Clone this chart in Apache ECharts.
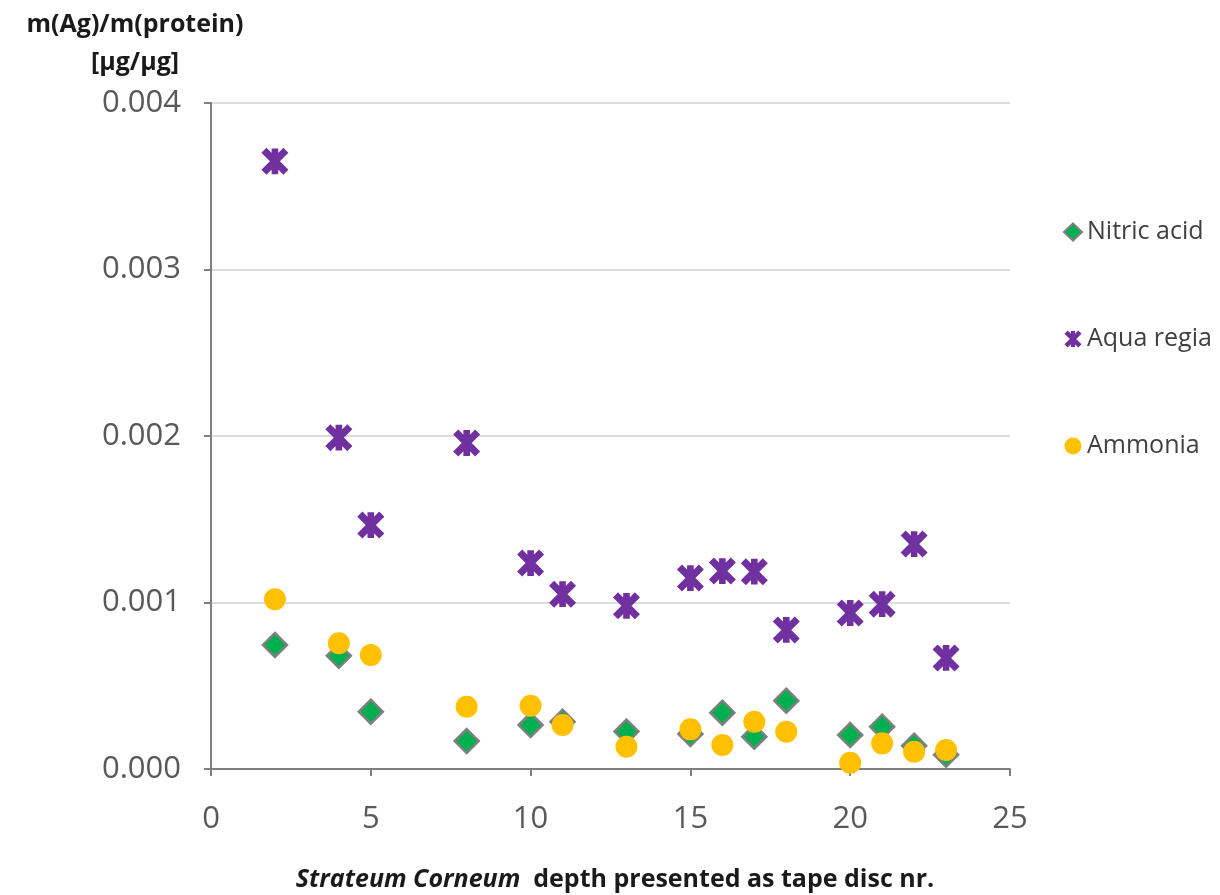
<!DOCTYPE html>
<html><head><meta charset="utf-8">
<script src="https://cdn.jsdelivr.net/npm/echarts@6/dist/echarts.min.js"></script>
<style>html,body{margin:0;padding:0;background:#fff}#c{width:1220px;height:895px}</style>
</head><body><div id="c"></div>
<script>
const discNr = [2, 4, 5, 8, 10, 11, 13, 15, 16, 17, 18, 20, 21, 22, 23];
const nitricAcid = [0.000745, 0.00068, 0.000344, 0.000168, 0.000264, 0.000284, 0.000225, 0.00021, 0.000338, 0.000194, 0.00041, 0.000204, 0.000254, 0.00014, 0.000085];
const aquaRegia = [0.00365, 0.00199, 0.001465, 0.001958, 0.001237, 0.00105, 0.00098, 0.001147, 0.001189, 0.001185, 0.000835, 0.000937, 0.00099, 0.001351, 0.000667];
const ammonia = [0.00102, 0.000755, 0.000685, 0.000374, 0.00038, 0.000264, 0.000134, 0.000238, 0.000144, 0.000284, 0.000224, 0.000038, 0.000154, 0.000104, 0.000114];
const yTicks = ['0.000', '0.001', '0.002', '0.003', '0.004'];
const seriesNames = ['Nitric acid', 'Aqua regia', 'Ammonia'];

const pair = (xs, ys) => xs.map((x, i) => [x, ys[i]]);
const starMark = 'path://M0.08,1.92 L1.92,0.08 L9.92,8.08 L8.08,9.92 Z ' +
  'M8.08,0.08 L9.92,1.92 L1.92,9.92 L0.08,8.08 Z ' +
  'M3.8,0.3 L6.2,0.3 L6.2,9.7 L3.8,9.7 Z';
const font = '"Open Sans", "Liberation Sans", sans-serif';

const chart = echarts.init(document.getElementById('c'), null, {renderer: 'canvas'});
chart.setOption({
  animation: false,
  backgroundColor: '#fff',
  grid: {left: 211, right: 210, top: 103, bottom: 126},
  title: [
    {text: 'm(Ag)/m(protein)\n[µg/µg]', left: 130, top: 1, textAlign: 'center',
     textStyle: {fontFamily: font, fontWeight: 'bold', fontSize: 25, color: '#1a1a1a', lineHeight: 38, align: 'center'}},
    {text: '{i|Strateum Corneum}{n|  depth presented as tape disc nr.}', left: 610, top: 862, textAlign: 'center',
     textStyle: {rich: {
       i: {fontFamily: font, fontWeight: 'bold', fontStyle: 'italic', fontSize: 25, color: '#1a1a1a'},
       n: {fontFamily: font, fontWeight: 'bold', fontSize: 25, color: '#1a1a1a'}}}}
  ],
  legend: {
    orient: 'vertical', left: 1058, top: 214, itemGap: 81, itemWidth: 18, itemHeight: 17,
    textStyle: {fontFamily: font, fontSize: 25, lineHeight: 26, color: '#404040'},
    data: seriesNames
  },
  xAxis: {
    type: 'value', min: 0, max: 25, interval: 5,
    axisLine: {show: true, lineStyle: {color: '#7f7f7f', width: 2}},
    axisTick: {show: true, inside: false, length: 7, lineStyle: {color: '#7f7f7f', width: 2}},
    axisLabel: {fontFamily: font, fontSize: 31, color: '#595959', margin: 35},
    splitLine: {show: false}
  },
  yAxis: {
    type: 'value', min: 0, max: 0.004, interval: 0.001,
    axisLine: {show: true, lineStyle: {color: '#7f7f7f', width: 2}},
    axisTick: {show: true, inside: false, length: 7, lineStyle: {color: '#7f7f7f', width: 2}},
    axisLabel: {fontFamily: font, fontSize: 31, color: '#595959', margin: 30,
      formatter: (v) => yTicks[Math.round(v * 1000)] ?? v.toFixed(3)},
    splitLine: {show: true, lineStyle: {color: '#d0d0d0', width: 1.5}}
  },
  series: [
    {name: seriesNames[0], type: 'scatter', symbol: 'diamond', symbolSize: 24,
     itemStyle: {color: '#00B050', borderColor: '#7f7f7f', borderWidth: 2.5, opacity: 1},
     data: pair(discNr, nitricAcid), z: 2},
    {name: seriesNames[1], type: 'scatter', symbol: starMark, symbolSize: 27,
     itemStyle: {color: '#7030A0', opacity: 1},
     data: pair(discNr, aquaRegia), z: 3},
    {name: seriesNames[2], type: 'scatter', symbol: 'circle', symbolSize: 22,
     itemStyle: {color: '#FFC000', opacity: 1},
     data: pair(discNr, ammonia), z: 4}
  ]
});
</script></body></html>
